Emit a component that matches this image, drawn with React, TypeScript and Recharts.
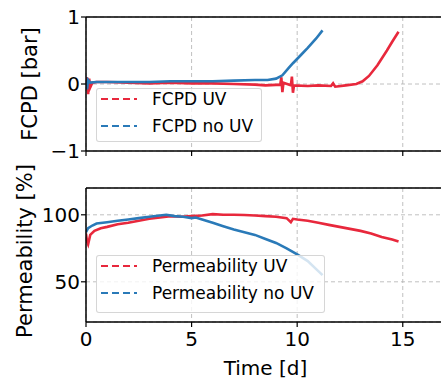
import { LineChart, Line, XAxis, YAxis, CartesianGrid, ReferenceLine, Legend } from "recharts";

const FONT = '"DejaVu Sans", sans-serif';
const RED = "#e8283c";
const BLUE = "#2a7ab8";

const timeTicks = [0, 5, 10, 15];
const fcpdTicks = [-1, 0, 1];
const permTicks = [50, 100];

const fcpdUv = [
    { t: 0, v: 0 }, { t: 0.05, v: 0.1 }, { t: 0.1, v: -0.15 }, { t: 0.15, v: 0.08 }, { t: 0.2, v: -0.05 },
    { t: 0.3, v: 0.02 }, { t: 0.5, v: 0.03 }, { t: 1, v: 0.03 }, { t: 2, v: 0.02 }, { t: 3, v: 0.01 },
    { t: 4, v: 0.02 }, { t: 5, v: 0.01 }, { t: 6, v: 0.01 }, { t: 7, v: 0 }, { t: 8, v: -0.01 },
    { t: 8.5, v: -0.02 }, { t: 9.2, v: -0.01 }, { t: 9.25, v: 0.1 }, { t: 9.3, v: -0.12 }, { t: 9.35, v: 0.02 },
    { t: 9.7, v: -0.02 }, { t: 9.75, v: 0.11 }, { t: 9.8, v: -0.13 }, { t: 9.85, v: -0.02 }, { t: 10.5, v: -0.03 },
    { t: 11, v: -0.02 }, { t: 11.6, v: -0.03 }, { t: 11.7, v: 0.01 }, { t: 11.8, v: -0.04 }, { t: 12.3, v: -0.02 },
    { t: 12.8, v: 0 }, { t: 13.1, v: 0.04 }, { t: 13.4, v: 0.12 }, { t: 13.8, v: 0.28 }, { t: 14.25, v: 0.5 },
    { t: 14.5, v: 0.63 }, { t: 14.8, v: 0.78 },
];

const fcpdNoUv = [
    { t: 0, v: 0.04 }, { t: 0.05, v: -0.08 }, { t: 0.1, v: 0.06 }, { t: 0.2, v: 0.02 }, { t: 0.5, v: 0.03 },
    { t: 1, v: 0.03 }, { t: 2, v: 0.03 }, { t: 3, v: 0.03 }, { t: 4, v: 0.04 }, { t: 5, v: 0.04 },
    { t: 6, v: 0.04 }, { t: 7, v: 0.05 }, { t: 8, v: 0.06 }, { t: 8.6, v: 0.06 }, { t: 9.0, v: 0.08 },
    { t: 9.3, v: 0.13 }, { t: 9.6, v: 0.24 }, { t: 9.8, v: 0.31 }, { t: 10.2, v: 0.44 }, { t: 10.5, v: 0.54 },
    { t: 10.9, v: 0.68 }, { t: 11.2, v: 0.8 },
];

const permUv = [
    { t: 0, v: 86 }, { t: 0.05, v: 80 }, { t: 0.1, v: 78 }, { t: 0.2, v: 85 }, { t: 0.4, v: 88 },
    { t: 0.7, v: 90 }, { t: 1, v: 91 }, { t: 1.5, v: 93 }, { t: 2, v: 94 }, { t: 2.5, v: 95.5 },
    { t: 3, v: 97 }, { t: 3.5, v: 98 }, { t: 4, v: 99 }, { t: 4.5, v: 98.5 }, { t: 5, v: 99 },
    { t: 5.5, v: 99.5 }, { t: 6, v: 100.5 }, { t: 6.5, v: 100 }, { t: 7, v: 100 }, { t: 7.5, v: 99.8 },
    { t: 8, v: 99.5 }, { t: 8.5, v: 99 }, { t: 9, v: 98.5 }, { t: 9.5, v: 97.5 }, { t: 9.7, v: 94.5 },
    { t: 9.8, v: 97 }, { t: 10, v: 96.5 }, { t: 10.5, v: 95.5 }, { t: 11, v: 94 }, { t: 11.5, v: 92.5 },
    { t: 12, v: 91 }, { t: 12.5, v: 89.5 }, { t: 13, v: 88 }, { t: 13.5, v: 86 }, { t: 14, v: 83.5 },
    { t: 14.5, v: 81.5 }, { t: 14.8, v: 80 },
];

const permNoUv = [
    { t: 0, v: 87 }, { t: 0.1, v: 90 }, { t: 0.3, v: 92 }, { t: 0.5, v: 93.5 }, { t: 1, v: 94.5 },
    { t: 1.5, v: 95.5 }, { t: 2, v: 96.5 }, { t: 2.5, v: 97.5 }, { t: 3, v: 98.5 }, { t: 3.5, v: 99.5 },
    { t: 3.8, v: 100 }, { t: 4.2, v: 99 }, { t: 4.6, v: 98.5 }, { t: 5, v: 97.5 }, { t: 5.2, v: 98 },
    { t: 5.5, v: 96.5 }, { t: 6, v: 94 }, { t: 6.5, v: 91.5 }, { t: 7, v: 89 }, { t: 7.5, v: 87 },
    { t: 8, v: 85 }, { t: 8.5, v: 82 }, { t: 9, v: 79 }, { t: 9.5, v: 75 }, { t: 10, v: 70.5 },
    { t: 10.5, v: 65.5 }, { t: 11, v: 58 }, { t: 11.2, v: 55 },
];

const axisLine = { stroke: "#000", strokeWidth: 1.5 };
const tickLine = { stroke: "#000", strokeWidth: 1.2 };
const tickStyle = { fill: "#000", fontSize: 20, fontFamily: FONT };
const minus = (v: number) => (v < 0 ? "\u2212" + Math.abs(v) : String(v));

function LegendBox({ payload, width, height }: any) {
    return (
        <div
            style={{
                width,
                height,
                boxSizing: "border-box",
                border: "1px solid rgba(204,204,204,0.8)",
                borderRadius: 3,
                background: "rgba(255,255,255,0.8)",
                fontFamily: FONT,
                fontSize: 17,
                color: "#000",
                paddingLeft: 4,
            }}
        >
            {(payload || []).map((p: any, i: number) => (
                <div key={i} style={{ display: "flex", alignItems: "center", height: 20, marginTop: i === 0 ? 0 : 7 }}>
                    <svg width={36} height={4} style={{ marginRight: 15 }}>
                        <line x1={0} y1={2} x2={36} y2={2} stroke={p.color} strokeWidth={2.2} strokeDasharray="7 4" />
                    </svg>
                    <span>{p.value}</span>
                </div>
            ))}
        </div>
    );
}

const yLabel = (text: string, left: number, top: number) => (
    <div
        style={{
            position: "absolute",
            left,
            top,
            transform: "translate(-50%, -50%) rotate(-90deg)",
            whiteSpace: "nowrap",
            fontFamily: FONT,
            fontSize: 21,
            lineHeight: 1,
            color: "#000",
        }}
    >
        {text}
    </div>
);

export default function App() {
    return (
        <div style={{ position: "absolute", left: 0, top: 0, width: 441, height: 378, overflow: "hidden", background: "#fff" }}>
            <div style={{ position: "absolute", left: 0, top: 0 }}>
                <LineChart width={445} height={170} margin={{ top: 17, right: 0, bottom: 0, left: 0 }}>
                    <CartesianGrid stroke="#b0b0b0" strokeDasharray="4 3" strokeWidth={0.8} />
                    <XAxis type="number" dataKey="t" domain={[0, 17]} ticks={timeTicks} height={19} tickFormatter={() => ""}
                        axisLine={axisLine} tickLine={tickLine} tickSize={5} allowDataOverflow />
                    <YAxis type="number" domain={[-1, 1]} ticks={fcpdTicks} width={86} tickFormatter={minus}
                        axisLine={axisLine} tickLine={tickLine} tickSize={5} tickMargin={1} tick={tickStyle} allowDataOverflow />
                    <ReferenceLine y={1} stroke="#000" strokeWidth={1.5} />
                    <Line data={fcpdUv} dataKey="v" name="FCPD UV" stroke={RED} strokeWidth={2.6} dot={false} isAnimationActive={false} />
                    <Line data={fcpdNoUv} dataKey="v" name="FCPD no UV" stroke={BLUE} strokeWidth={2.6} dot={false} isAnimationActive={false} />
                    <Legend layout="vertical" align="center" verticalAlign="middle"
                        wrapperStyle={{ left: 96, top: 88, width: "auto" }}
                        content={(props: any) => <LegendBox payload={props.payload} width={166} height={54} />} />
                </LineChart>
            </div>
            <div style={{ position: "absolute", left: 0, top: 170 }}>
                <LineChart width={445} height={208} margin={{ top: 18, right: 0, bottom: 0, left: 0 }}>
                    <CartesianGrid stroke="#b0b0b0" strokeDasharray="4 3" strokeWidth={0.8} />
                    <XAxis type="number" dataKey="t" domain={[0, 17]} ticks={timeTicks} height={56}
                        axisLine={axisLine} tickLine={tickLine} tickSize={5} tickMargin={5} tick={tickStyle} allowDataOverflow
                        label={{ value: "Time [d]", position: "insideBottom", offset: 3, fill: "#000", fontSize: 20, fontFamily: FONT }} />
                    <YAxis type="number" domain={[20, 120]} ticks={permTicks} width={86}
                        axisLine={axisLine} tickLine={tickLine} tickSize={5} tickMargin={1} tick={tickStyle} allowDataOverflow />
                    <ReferenceLine y={120} stroke="#000" strokeWidth={1.5} />
                    <Line data={permUv} dataKey="v" name="Permeability UV" stroke={RED} strokeWidth={2.6} dot={false} isAnimationActive={false} />
                    <Line data={permNoUv} dataKey="v" name="Permeability no UV" stroke={BLUE} strokeWidth={2.6} dot={false} isAnimationActive={false} />
                    <Legend layout="vertical" align="center" verticalAlign="middle"
                        wrapperStyle={{ left: 96, top: 85, width: "auto" }}
                        content={(props: any) => <LegendBox payload={props.payload} width={229} height={58} />} />
                </LineChart>
            </div>
            {yLabel("FCPD [bar]", 30, 84)}
            {yLabel("Permeability [%]", 25, 251)}
        </div>
    );
}
